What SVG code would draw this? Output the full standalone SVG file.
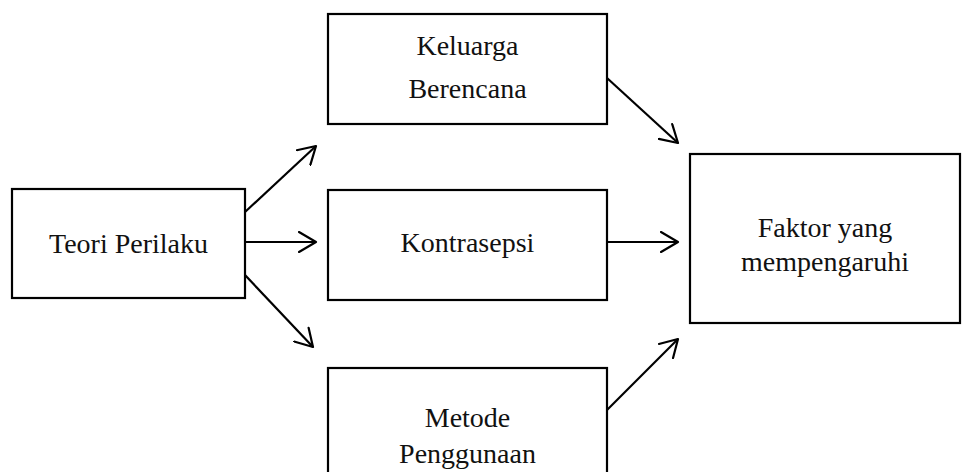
<svg xmlns="http://www.w3.org/2000/svg" width="962" height="472" viewBox="0 0 962 472">
<style>
.box{fill:#fff;stroke:#000;stroke-width:2.2}
.lbl{font-family:"Liberation Serif","Times New Roman",serif;font-size:28px;fill:#111;text-anchor:middle}
.con{stroke:#000;stroke-width:2.2;fill:none;marker-end:url(#ah)}
</style>
<defs>
<marker id="ah" viewBox="0 0 20 22" refX="18" refY="11" markerWidth="20" markerHeight="22" markerUnits="userSpaceOnUse" orient="auto">
<path d="M1,1 L18,11 L1,21" fill="none" stroke="#000" stroke-width="2.2" stroke-linecap="round" stroke-linejoin="round"/>
</marker>
</defs>
<rect width="962" height="472" fill="#fff"/>
<g id="connectors">
<line class="con" x1="245" y1="212" x2="316" y2="146"/>
<line class="con" x1="245" y1="242" x2="316" y2="242"/>
<line class="con" x1="245" y1="275" x2="313" y2="347"/>
<line class="con" x1="607" y1="78" x2="678" y2="143"/>
<line class="con" x1="607" y1="242" x2="678" y2="242"/>
<line class="con" x1="607" y1="410" x2="678" y2="339"/>
</g>
<g id="teori">
<rect class="box" x="12" y="189" width="233" height="109"/>
<text class="lbl" x="128.5" y="253">Teori Perilaku</text>
</g>
<g id="keluarga">
<rect class="box" x="328" y="14" width="279" height="110"/>
<text class="lbl" x="467.5" y="55">Keluarga</text>
<text class="lbl" x="467.5" y="98">Berencana</text>
</g>
<g id="kontrasepsi">
<rect class="box" x="328" y="190" width="279" height="110"/>
<text class="lbl" x="467.5" y="252">Kontrasepsi</text>
</g>
<g id="metode">
<rect class="box" x="328" y="368" width="279" height="120"/>
<text class="lbl" x="467.5" y="427">Metode</text>
<text class="lbl" x="467.5" y="463">Penggunaan</text>
</g>
<g id="faktor">
<rect class="box" x="690" y="154" width="270" height="169"/>
<text class="lbl" x="825" y="237">Faktor yang</text>
<text class="lbl" x="825" y="271">mempengaruhi</text>
</g>
</svg>
